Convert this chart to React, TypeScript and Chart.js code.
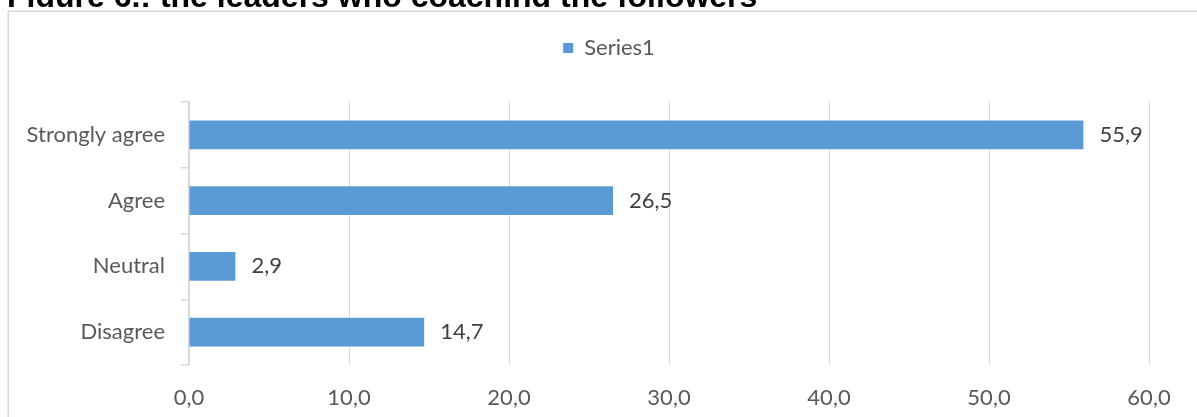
import React, { useEffect, useRef } from "react";
import { Chart, registerables } from "chart.js";

Chart.register(...registerables);

const titleText = "Figure 6.: the leaders who coaching the followers";
const seriesName = "Series1";
const categories = ["Strongly agree", "Agree", "Neutral", "Disagree"];
const values = [55.9, 26.5, 2.9, 14.7];
const xMin = 0;
const xMax = 60;
const xStep = 10;

const W = 1197;
const H = 417;
const FONT = "Lato, 'Open Sans', sans-serif";
const FS = 22;
const fmt = (v: number) => Number(v).toFixed(1).replace(".", ",");

const framePlugin = {
  id: "frame",
  beforeDraw(chart: any) {
    const ctx = chart.ctx;
    ctx.save();
    ctx.fillStyle = "#ffffff";
    ctx.fillRect(0, 0, W, H);
    ctx.strokeStyle = "#d9d9d9";
    ctx.lineWidth = 1.5;
    ctx.strokeRect(8.25, 11.25, W + 20, H + 20);
    ctx.beginPath();
    ctx.rect(0, 0, W, 7);
    ctx.clip();
    ctx.fillStyle = "#000000";
    ctx.font = "bold 32px 'Liberation Sans', Arial, sans-serif";
    ctx.textBaseline = "alphabetic";
    ctx.textAlign = "left";
    ctx.fillText(titleText, 7, 7);
    ctx.restore();
  },
};

const valueLabelPlugin = {
  id: "valueLabels",
  afterDatasetsDraw(chart: any) {
    const ctx = chart.ctx;
    const meta = chart.getDatasetMeta(0);
    ctx.save();
    ctx.fillStyle = "#404040";
    ctx.font = `${FS}px ${FONT}`;
    ctx.textBaseline = "middle";
    ctx.textAlign = "left";
    meta.data.forEach((bar: any, i: number) => {
      const v = chart.data.datasets[0].data[i] as number;
      ctx.fillText(fmt(v), bar.x + 16, bar.y);
    });
    ctx.restore();
  },
};

export default function App() {
  const ref = useRef<HTMLCanvasElement | null>(null);
  useEffect(() => {
    if (!ref.current) return;
    const chart = new Chart(ref.current, {
      type: "bar",
      data: {
        labels: categories,
        datasets: [
          {
            label: seriesName,
            data: values,
            backgroundColor: "#5b9bd5",
            borderWidth: 0,
            categoryPercentage: 0.8,
            barPercentage: 0.551,
          },
        ],
      },
      options: {
        indexAxis: "y",
        responsive: false,
        animation: false,
        devicePixelRatio: 1,
        layout: { padding: { left: 21, right: 0, top: 27, bottom: 0 } },
        plugins: {
          legend: {
            display: true,
            position: "top",
            labels: {
              boxWidth: 10,
              boxHeight: 10,
              padding: 10,
              color: "#595959",
              font: { family: FONT, size: FS },
            },
          },
          tooltip: { enabled: false },
        },
        scales: {
          x: {
            type: "linear",
            position: "bottom",
            min: xMin,
            max: xMax,
            ticks: {
              stepSize: xStep,
              color: "#595959",
              font: { family: FONT, size: FS },
              padding: 20,
              callback: (v: any) => fmt(Number(v)),
            },
            grid: { color: "#d9d9d9", lineWidth: 1, drawTicks: false },
            border: { display: false },
            afterFit: (s: any) => {
              s.height = 52;
            },
          },
          xTop: {
            type: "linear",
            position: "top",
            display: true,
            ticks: { display: false },
            grid: { display: false, drawTicks: false },
            border: { display: false },
            afterFit: (s: any) => {
              s.height = 33;
            },
          },
          y: {
            type: "category",
            position: "left",
            ticks: {
              color: "#595959",
              font: { family: FONT, size: FS },
              padding: 16,
            },
            grid: {
              display: true,
              offset: true,
              drawOnChartArea: false,
              drawTicks: true,
              tickLength: 8,
              color: "#d9d9d9",
              lineWidth: 1.5,
            },
            border: { display: true, color: "#d9d9d9", width: 1.5 },
            afterFit: (s: any) => {
              s.width = 168;
            },
          },
          yRight: {
            type: "linear",
            position: "right",
            display: true,
            ticks: { display: false },
            grid: { display: false, drawTicks: false },
            border: { display: false },
            afterFit: (s: any) => {
              s.width = 48;
            },
          },
        },
      },
      plugins: [framePlugin, valueLabelPlugin],
    } as any);
    return () => chart.destroy();
  }, []);
  return (
    <div style={{ position: "absolute", left: 0, top: 0, width: W, height: H, overflow: "hidden" }}>
      <canvas ref={ref} width={W} height={H} style={{ width: W, height: H, display: "block" }} />
    </div>
  );
}
